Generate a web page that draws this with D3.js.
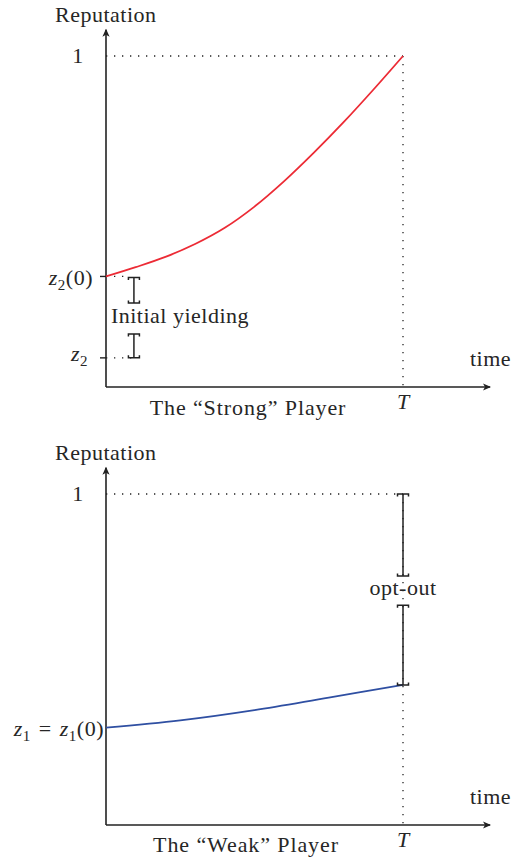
<!DOCTYPE html>
<html>
<head>
<meta charset="utf-8">
<script src="https://cdn.jsdelivr.net/npm/d3@7"></script>
<style>
  body { margin: 0; background: #fff; }
  text { font-family: "Liberation Serif", serif; font-size: 22px; letter-spacing: 0.5px; fill: #262626; }
  .math { font-style: italic; letter-spacing: 0; }
  .title { letter-spacing: 0.9px; }
</style>
</head>
<body>
<div id="chart"></div>
<script>
// reputation paths over time (T = 1)
const strongTime = [0, 0.1, 0.2, 0.3, 0.4, 0.5, 0.6, 0.7, 0.8, 0.9, 1];
const strongRep = [0.334, 0.362, 0.393, 0.432, 0.481, 0.545, 0.622, 0.708, 0.800, 0.898, 1.0];
const weakTime = [0, 0.25, 0.5, 0.75, 1];
const weakRep = [0.294, 0.316, 0.347, 0.385, 0.423];

const T = 1;
const z2 = 0.088;       // z_2
const z2zero = 0.334;   // z_2(0)
const z1 = 0.294;       // z_1 = z_1(0)
const yieldGap = [0.254, 0.16];  // gap in "Initial yielding" bar
const optGap = [0.752, 0.664];   // gap in "opt-out" bar
const yieldAt = 0.094;           // time where the yielding bar sits

const width = 513, height = 858;
const panelShift = 438;
const ink = "#222";

const svg = d3.select("#chart").append("svg")
    .attr("width", width)
    .attr("height", height);

svg.append("defs").append("marker")
    .attr("id", "arrow")
    .attr("viewBox", "-8 -5 10 10")
    .attr("refX", 0).attr("refY", 0)
    .attr("markerWidth", 10).attr("markerHeight", 10)
    .attr("markerUnits", "userSpaceOnUse")
    .attr("orient", "auto")
  .append("path")
    .attr("d", "M1,0 L-7,-3.6 L-5,0 L-7,3.6 Z")
    .attr("fill", ink);

const x = d3.scaleLinear().domain([0, T]).range([106, 403]);
const y = d3.scaleLinear().domain([0, 1]).range([387, 56]);

// helpers
function dotted(g, x1, y1, x2, y2) {
    g.append("line")
        .attr("x1", x1).attr("y1", y1).attr("x2", x2).attr("y2", y2)
        .attr("stroke", ink)
        .attr("stroke-width", 1.3)
        .attr("stroke-dasharray", "1.3 6.7");
}

function bar(g, cx, yTop, yBot) {
    g.append("line")
        .attr("x1", cx).attr("x2", cx).attr("y1", yTop).attr("y2", yBot)
        .attr("stroke", ink).attr("stroke-width", 1.5);
    g.append("path")
        .attr("d", `M${cx - 5.5},${yTop + 2.5} L${cx - 5.5},${yTop} L${cx + 5.5},${yTop} L${cx + 5.5},${yTop + 2.5}`)
        .attr("fill", "none").attr("stroke", ink).attr("stroke-width", 1.5);
    g.append("path")
        .attr("d", `M${cx - 5.5},${yBot - 2.5} L${cx - 5.5},${yBot} L${cx + 5.5},${yBot} L${cx + 5.5},${yBot - 2.5}`)
        .attr("fill", "none").attr("stroke", ink).attr("stroke-width", 1.5);
}

function axes(g) {
    g.append("line")
        .attr("x1", x(0)).attr("y1", y(0)).attr("x2", x(0)).attr("y2", y(1.079))
        .attr("stroke", ink).attr("stroke-width", 1.6)
        .attr("marker-end", "url(#arrow)");
    g.append("line")
        .attr("x1", x(0)).attr("y1", y(0)).attr("x2", x(1.293)).attr("y2", y(0))
        .attr("stroke", ink).attr("stroke-width", 1.6)
        .attr("marker-end", "url(#arrow)");
    g.append("text").attr("x", 55).attr("y", y(1) - 34).text("Reputation");
    g.append("text").attr("x", 78).attr("y", y(1) + 7).attr("text-anchor", "middle").text("1");
    g.append("text").attr("x", 470).attr("y", y(0) - 21).text("time");
    g.append("text").attr("class", "math").attr("x", x(T)).attr("y", y(0) + 22)
        .attr("text-anchor", "middle").text("T");
    dotted(g, x(0), y(1), x(T), y(1));
}

function subLabel(g, xEnd, yBase, parts) {
    const t = g.append("text").attr("x", xEnd).attr("y", yBase).attr("text-anchor", "end");
    parts.forEach(p => {
        const s = t.append("tspan").text(p.t);
        if (p.it) s.attr("font-style", "italic");
        if (p.sub) s.attr("font-size", 15).attr("dy", 5);
        if (p.up) s.attr("dy", -5);
        if (p.space) s.attr("dx", p.space);
    });
    return t;
}

// ---------- strong player ----------
const strongG = svg.append("g");
axes(strongG);
dotted(strongG, x(T), y(1), x(T), y(0));
dotted(strongG, x(0), y(z2zero), x(yieldAt) - 6, y(z2zero));
dotted(strongG, x(0), y(z2), x(yieldAt), y(z2));

strongG.selectAll(".tick-left")
    .data([z2zero, z2])
    .join("line")
    .attr("x1", x(0) - 6).attr("x2", x(0))
    .attr("y1", d => y(d)).attr("y2", d => y(d))
    .attr("stroke", ink).attr("stroke-width", 1.4);

strongG.append("path")
    .attr("d", d3.line().curve(d3.curveCatmullRom)
        .x((d, i) => x(strongTime[i]))
        .y(d => y(d))(strongRep))
    .attr("fill", "none")
    .attr("stroke", "#ec2b35")
    .attr("stroke-width", 1.8);

bar(strongG, x(yieldAt), y(z2zero) + 1, y(yieldGap[0]));
bar(strongG, x(yieldAt), y(yieldGap[1]), y(z2));
strongG.append("text").attr("x", 180).attr("y", 323).attr("text-anchor", "middle").text("Initial yielding");

subLabel(strongG, 93, y(z2zero) + 9, [{t: "z", it: true}, {t: "2", sub: true}, {t: "(0)", up: true}]);
subLabel(strongG, 88, y(z2) + 3, [{t: "z", it: true}, {t: "2", sub: true}]);
strongG.append("text").attr("class", "title").attr("x", 248).attr("y", 415)
    .attr("text-anchor", "middle").text("The \u201cStrong\u201d Player");

// ---------- weak player ----------
const weakG = svg.append("g").attr("transform", `translate(0,${panelShift})`);
axes(weakG);
dotted(weakG, x(T), y(1), x(T), y(0));

weakG.append("path")
    .attr("d", d3.line().curve(d3.curveCatmullRom)
        .x((d, i) => x(weakTime[i]))
        .y(d => y(d))(weakRep))
    .attr("fill", "none")
    .attr("stroke", "#2f4fa2")
    .attr("stroke-width", 1.8);

bar(weakG, x(T), y(1), y(optGap[0]));
bar(weakG, x(T), y(optGap[1]), y(weakRep[weakRep.length - 1]));
weakG.append("text").attr("x", x(T)).attr("y", 157).attr("text-anchor", "middle").text("opt-out");

subLabel(weakG, 104, y(z1) + 8, [
    {t: "z", it: true}, {t: "1", sub: true},
    {t: "=", up: true, space: 8},
    {t: "z", it: true, space: 8}, {t: "1", sub: true}, {t: "(0)", up: true}
]);
weakG.append("text").attr("class", "title").attr("x", 246).attr("y", 414)
    .attr("text-anchor", "middle").text("The \u201cWeak\u201d Player");
</script>
</body>
</html>
